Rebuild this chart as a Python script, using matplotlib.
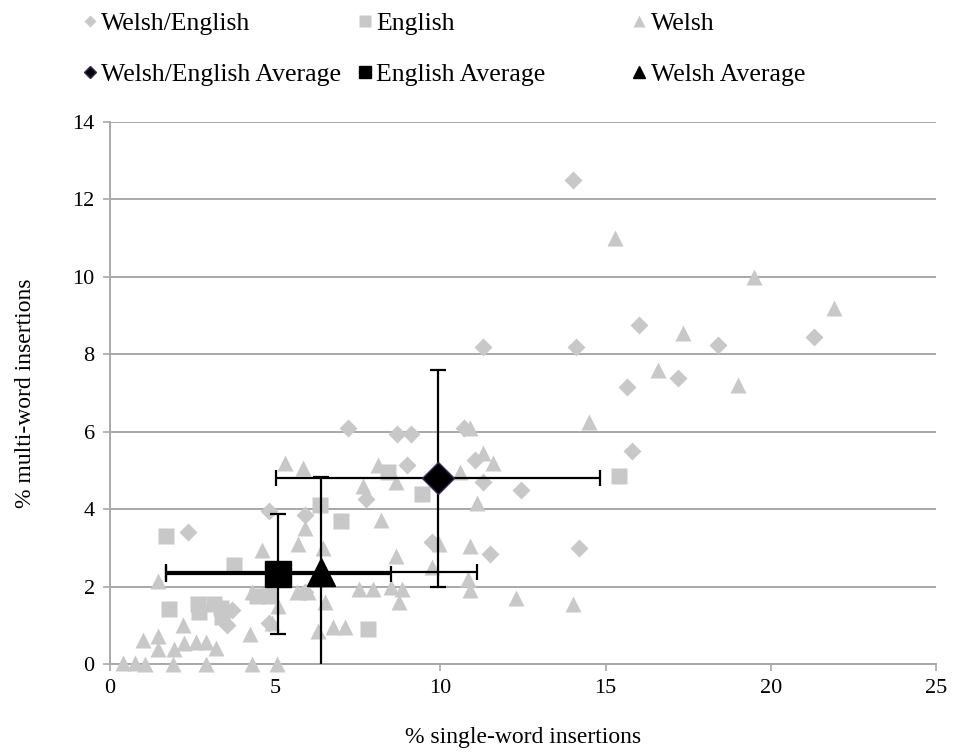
"""Scatter of single- vs multi-word insertions per speaker group, with group averages."""

import matplotlib

matplotlib.use("Agg")
import matplotlib.pyplot as plt
from matplotlib.lines import Line2D

plt.rcParams["font.family"] = ["Liberation Serif", "DejaVu Serif"]

# Welsh/English speakers (% single-word, % multi-word)
we_single = [14.0, 14.1, 16.0, 18.4, 21.3, 17.2, 15.65, 15.8, 11.3, 7.2, 8.7, 9.1,
             10.7, 11.05, 11.3, 12.45, 9.0, 7.75, 4.8, 5.9, 9.75, 11.5, 14.2, 2.35,
             3.7, 3.55, 4.8, 5.9]
we_multi = [12.5, 8.2, 8.75, 8.25, 8.45, 7.38, 7.15, 5.5, 8.2, 6.1, 5.95, 5.95,
            6.1, 5.28, 4.7, 4.5, 5.15, 4.25, 3.95, 3.85, 3.15, 2.85, 3.0, 3.4,
            1.4, 1.0, 1.05, 1.85]

# English speakers
en_single = [1.7, 3.75, 1.8, 2.65, 2.7, 3.15, 3.35, 3.4, 4.45, 4.8, 6.35, 7.0,
             9.45, 8.4, 7.8, 15.4]
en_multi = [3.3, 2.55, 1.42, 1.55, 1.35, 1.55, 1.45, 1.22, 1.75, 1.75, 4.1, 3.7,
            4.4, 4.95, 0.9, 4.85]

# Welsh speakers
cy_single = [15.3, 19.5, 21.9, 17.35, 16.6, 19.0, 14.5, 12.3, 14.0, 10.9, 11.3,
             11.6, 10.6, 11.1, 10.9, 9.95, 9.75, 10.85, 10.9, 5.3, 5.85, 8.1,
             8.65, 7.65, 8.2, 5.9, 5.7, 4.6, 6.45, 8.65, 7.55, 7.95, 8.5, 8.85,
             8.75, 6.5, 5.65, 6.0, 4.3, 5.1, 6.3, 6.75, 7.1, 4.25, 4.9, 1.45,
             2.2, 1.0, 1.45, 1.45, 1.95, 2.25, 2.6, 2.9, 3.2, 0.4, 0.75, 1.05,
             1.9, 2.9, 4.3, 5.05]
cy_multi = [11.0, 10.0, 9.2, 8.55, 7.6, 7.2, 6.25, 1.7, 1.55, 6.1, 5.45, 5.2,
            4.95, 4.15, 3.05, 3.1, 2.5, 2.2, 1.9, 5.2, 5.05, 5.15, 4.7, 4.6,
            3.72, 3.5, 3.1, 2.95, 3.0, 2.8, 1.95, 1.95, 2.0, 1.95, 1.6, 1.6,
            1.85, 1.85, 1.85, 1.5, 0.85, 0.95, 0.95, 0.78, 1.05, 2.15, 1.0,
            0.62, 0.72, 0.38, 0.38, 0.55, 0.58, 0.58, 0.42, 0.02, 0.02, 0.0,
            0.0, 0.0, 0.0, 0.0]

# group averages and error bar half-widths
avg_labels = ["Welsh/English Average", "English Average", "Welsh Average"]
avg_x = [9.93, 5.1, 6.4]
avg_y = [4.8, 2.32, 2.37]
avg_xerr = [4.9, 3.4, 4.7]
avg_yerr = [2.8, 1.55, 2.45]

GRAY = "#c8c8c8"
GRID = "#a8a8a8"


def main() -> None:
    fig = plt.figure(figsize=(9.54, 7.53), dpi=100)
    ax = fig.add_axes([0.1153, 0.1182, 0.8658, 0.7198])

    ax.set_xlim(0, 25)
    ax.set_ylim(0, 14)
    ax.set_yticks(range(0, 15, 2))
    ax.set_xticks(range(0, 26, 5))
    ax.yaxis.grid(True, color=GRID, lw=1.4)
    ax.set_axisbelow(True)
    for side in ("top", "right"):
        ax.spines[side].set_visible(False)
    for side in ("left", "bottom"):
        ax.spines[side].set_color(GRID)
        ax.spines[side].set_linewidth(1.4)
    ax.tick_params(direction="out", length=5, color=GRID, width=1.2,
                   labelsize=16, pad=6)

    # individual speakers
    ax.plot(we_single, we_multi, "D", ms=9, color=GRAY, mec="none",
            clip_on=False, zorder=3)
    ax.plot(en_single, en_multi, "s", ms=11, color=GRAY, mec="none",
            clip_on=False, zorder=3)
    ax.plot(cy_single, cy_multi, "^", ms=12, color=GRAY, mec="none",
            clip_on=False, zorder=3)

    # averages with error bars
    markers = ["D", "s", "^"]
    sizes = [16, 19, 20]
    for i in range(3):
        ax.errorbar(avg_x[i], avg_y[i], xerr=avg_xerr[i], yerr=avg_yerr[i],
                    fmt="none", ecolor="black", elinewidth=1.6, capsize=6,
                    capthick=1.6, zorder=4)
    for i in range(3):
        ax.plot(avg_x[i], avg_y[i], markers[i], ms=sizes[i], color="black",
                mec="#3a2a5a" if i == 0 else "black", mew=1, zorder=5,
                clip_on=False)

    ax.set_xlabel("% single-word insertions", fontsize=17, labelpad=21)
    ax.set_ylabel("% multi-word insertions", fontsize=17, labelpad=26)

    # legend: three columns, each with a speaker group and its average
    col_labels = [("Welsh/English", avg_labels[0]),
                  ("English", avg_labels[1]),
                  ("Welsh", avg_labels[2])]
    small = [6, 8, 8]
    col_x = [0.086, 0.374, 0.662]
    for i in range(3):
        handles = [
            Line2D([], [], ls="none", marker=markers[i], ms=small[i],
                   color=GRAY, mec="none"),
            Line2D([], [], ls="none", marker=markers[i], ms=small[i],
                   color="black", mec="#3a2a5a" if i == 0 else "black"),
        ]
        fig.legend(handles, col_labels[i], loc="upper left",
                   bbox_to_anchor=(col_x[i], 0.984), frameon=False,
                   fontsize=18.5, handlelength=0.6, handletextpad=0.15,
                   borderpad=0, borderaxespad=0, labelspacing=1.07)

    fig.savefig("out.png", dpi=100)


if __name__ == "__main__":
    main()
